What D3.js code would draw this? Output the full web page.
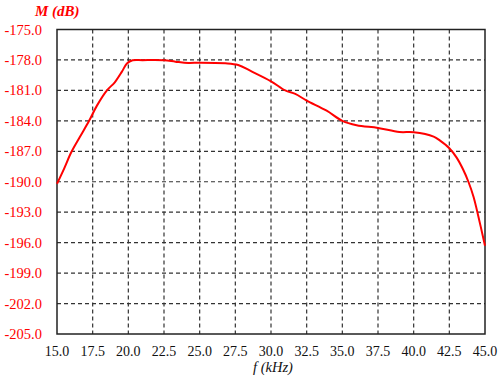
<!DOCTYPE html>
<html>
<head>
<meta charset="utf-8">
<script src="https://cdn.jsdelivr.net/npm/d3@7"></script>
<style>
  body { margin: 0; background: #fff; }
  svg { display: block; }
  text { font-family: "Liberation Serif", "Times New Roman", serif; }
</style>
</head>
<body>
<svg id="chart" width="500" height="378"></svg>
<script>
// frequency (kHz) and magnitude (dB)
const freq = [15.0, 15.5, 16.0, 16.6, 17.25, 17.8, 18.5, 19.05, 19.55, 19.9, 20.3, 21.0, 22.5,
              23.3, 24.2, 25.0, 26.8, 27.7, 28.6, 30.0, 31.0, 31.7, 32.5, 33.9, 35.0,
              36.0, 37.5, 39.0, 40.0, 41.4, 41.85, 42.5, 43.0, 43.45, 43.85, 44.2, 44.45, 45.0];
const magnitude = [-190.2, -188.7, -187.1, -185.6, -184.0, -182.5, -181.0, -180.2, -179.15, -178.35, -178.03, -178.02, -178.03,
                   -178.17, -178.3, -178.27, -178.33, -178.5, -179.1, -180.1, -181.0, -181.35, -182.0, -183.0, -184.0,
                   -184.43, -184.7, -185.1, -185.12, -185.55, -185.95, -186.7, -187.6, -188.75, -190.05, -191.5, -192.9, -196.3];
const xTicks = [15, 17.5, 20, 22.5, 25, 27.5, 30, 32.5, 35, 37.5, 40, 42.5, 45];
const yTicks = [-175, -178, -181, -184, -187, -190, -193, -196, -199, -202, -205];

const svg = d3.select("#chart");
const plotLeft = 57, plotRight = 485, plotTop = 29.5, plotBottom = 334;

const x = d3.scaleLinear().domain([15, 45]).range([plotLeft, plotRight]);
const y = d3.scaleLinear().domain([-205, -175]).range([plotBottom, plotTop]);

// dashed grid
svg.append("g").selectAll("line")
    .data(xTicks.slice(1, -1))
    .join("line")
    .attr("x1", d => x(d)).attr("x2", d => x(d))
    .attr("y1", plotTop).attr("y2", plotBottom)
    .attr("stroke", "#333").attr("stroke-width", 1.2)
    .attr("stroke-dasharray", "4,3");

svg.append("g").selectAll("line")
    .data(yTicks.slice(1, -1))
    .join("line")
    .attr("x1", plotLeft).attr("x2", plotRight)
    .attr("y1", d => y(d)).attr("y2", d => y(d))
    .attr("stroke", "#333").attr("stroke-width", 1.2)
    .attr("stroke-dasharray", "4,3");

// frame
svg.append("rect")
    .attr("x", plotLeft).attr("y", plotTop)
    .attr("width", plotRight - plotLeft).attr("height", plotBottom - plotTop)
    .attr("fill", "none").attr("stroke", "#222").attr("stroke-width", 1.5);

// y tick labels (red)
svg.append("g").selectAll("text")
    .data(yTicks)
    .join("text")
    .attr("x", 42).attr("y", d => y(d))
    .attr("dy", "0.35em")
    .attr("text-anchor", "end")
    .attr("font-size", 14.5)
    .attr("fill", "#ff0000")
    .text(d => d.toFixed(1));

// x tick labels
svg.append("g").selectAll("text")
    .data(xTicks)
    .join("text")
    .attr("x", d => x(d)).attr("y", 356)
    .attr("text-anchor", "middle")
    .attr("font-size", 14)
    .attr("fill", "#111")
    .text(d => d.toFixed(1));

// axis titles
svg.append("text")
    .attr("x", 273).attr("y", 372)
    .attr("text-anchor", "middle")
    .attr("font-style", "italic")
    .attr("font-size", 14.5)
    .attr("fill", "#111")
    .text("f (kHz)");

svg.append("text")
    .attr("x", 35).attr("y", 16)
    .attr("font-style", "italic")
    .attr("font-weight", "bold")
    .attr("font-size", 15)
    .attr("fill", "#ff0000")
    .text("M (dB)");

// curve
const points = freq.map((f, i) => [f, magnitude[i]]);
const line = d3.line()
    .x(d => x(d[0]))
    .y(d => y(d[1]))
    .curve(d3.curveCatmullRom.alpha(0.5));

svg.append("path")
    .datum(points)
    .attr("d", line)
    .attr("fill", "none")
    .attr("stroke", "#ff0000")
    .attr("stroke-width", 2);
</script>
</body>
</html>
